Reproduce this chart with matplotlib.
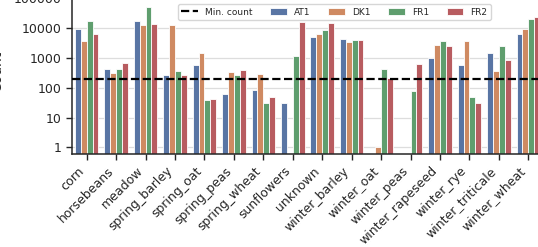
import matplotlib
matplotlib.use("Agg")
import matplotlib.pyplot as plt
import numpy as np

crops = ["corn", "horsebeans", "meadow", "spring_barley", "spring_oat", "spring_peas",
         "spring_wheat", "sunflowers", "unknown", "winter_barley", "winter_oat",
         "winter_peas", "winter_rapeseed", "winter_rye", "winter_triticale", "winter_wheat"]

# counts per region (0 = no samples)
at1 = [9700, 440, 17000, 277, 575, 62, 85, 30, 5000, 4500, 0, 0, 980, 575, 1450, 6300]
dk1 = [3800, 310, 12300, 12900, 1520, 333, 300, 0, 6300, 3550, 1, 0, 2800, 3750, 380, 9500]
fr1 = [18000, 440, 50000, 370, 40, 265, 31, 1200, 9000, 3950, 420, 77, 3650, 49, 2550, 20000]
fr2 = [6400, 700, 14200, 265, 42, 390, 48, 15800, 14700, 3950, 215, 650, 2550, 32, 870, 24500]
min_count = 200

regions = ["AT1", "DK1", "FR1", "FR2"]
colors = ["#5975a4", "#cf8a62", "#5f9e6e", "#b85c60"]

plt.rcParams["font.family"] = "DejaVu Sans"
text_color = "#262626"

fig = plt.figure(figsize=(5.38, 2.47), dpi=100)
ax = fig.add_axes([72 / 538, 93 / 247, 471 / 538, 164.6 / 247])

x = np.arange(len(crops))
w = 0.2
handles = []
labels = []
line = ax.axhline(min_count, color="black", ls="--", lw=1.6, zorder=3)
handles.append(line)
labels.append("Min. count")
for i, (vals, name, c) in enumerate(zip([at1, dk1, fr1, fr2], regions, colors)):
    b = ax.bar(x + (i - 1.5) * w, vals, width=w, color=c, edgecolor="white",
               linewidth=0.6, zorder=2)
    handles.append(b)
    labels.append(name)

ax.set_yscale("log")
ax.set_ylim(0.6, 2e5)
ax.set_xlim(-0.5, len(crops) - 0.5)
ax.set_yticks([1, 10, 100, 1000, 10000, 100000])
ax.set_yticklabels(["1", "10", "100", "1000", "10000", "100000"])
ax.minorticks_off()
ax.yaxis.grid(True, color="#dddddd", lw=0.9, zorder=0)
ax.set_axisbelow(True)

ax.set_xticks(x)
ax.set_xticklabels(crops, rotation=45, ha="right")
ax.tick_params(axis="both", labelsize=9, colors=text_color, length=4, width=1)
ax.set_ylabel("Count", fontsize=10, color=text_color, labelpad=7)

for s in ["top", "right"]:
    ax.spines[s].set_visible(False)
for s in ["left", "bottom"]:
    ax.spines[s].set_color(text_color)
    ax.spines[s].set_linewidth(1.1)

leg = ax.legend(handles, labels, ncol=5,
                loc="upper center", bbox_to_anchor=(334.5 / 538, 1 - 4 / 247),
                bbox_transform=fig.transFigure, borderaxespad=0, fontsize=6.5,
                handlelength=1.8, frameon=True, edgecolor="#cccccc", fancybox=True)
for t in leg.get_texts():
    t.set_color(text_color)

fig.savefig("out.png", dpi=100)
